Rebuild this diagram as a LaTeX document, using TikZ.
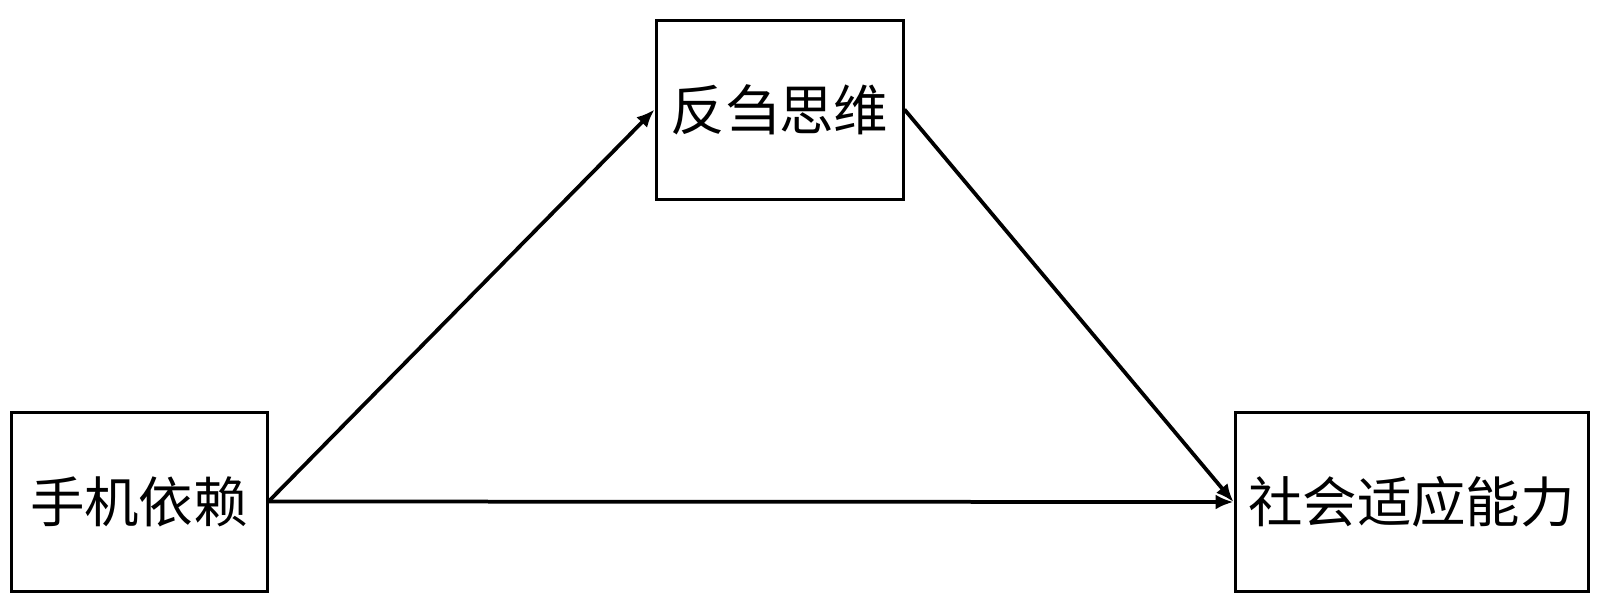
\documentclass[tikz,border=0pt]{standalone}
\usepackage{fontspec}
\newfontfamily\cjk{Noto Sans CJK SC}
\usetikzlibrary{arrows.meta}
\begin{document}
\begin{tikzpicture}[
  box/.style={draw=black, line width=0.06cm, fill=white, inner sep=0pt, minimum height=3.58cm,
    font=\cjk\fontsize{31pt}{34pt}\selectfont},
  conn/.style={line width=0.075cm, -{Latex[length=0.36cm,width=0.3cm]}}
]
\useasboundingbox (0,0) rectangle (32,-12.14);
\node[box, minimum width=5.12cm] (dep) at (2.78,-10.03) {手机依赖};
\node[box, minimum width=4.94cm] (ref) at (15.59,-2.19) {反刍思维};
\node[box, minimum width=7.06cm] (soc) at (28.23,-10.04) {社会适应能力};
\draw[conn] (dep.east) -- (ref.west);
\draw[conn] (ref.east) -- (soc.west);
\draw[conn] (dep.east) -- (soc.west);
\end{tikzpicture}
\end{document}
